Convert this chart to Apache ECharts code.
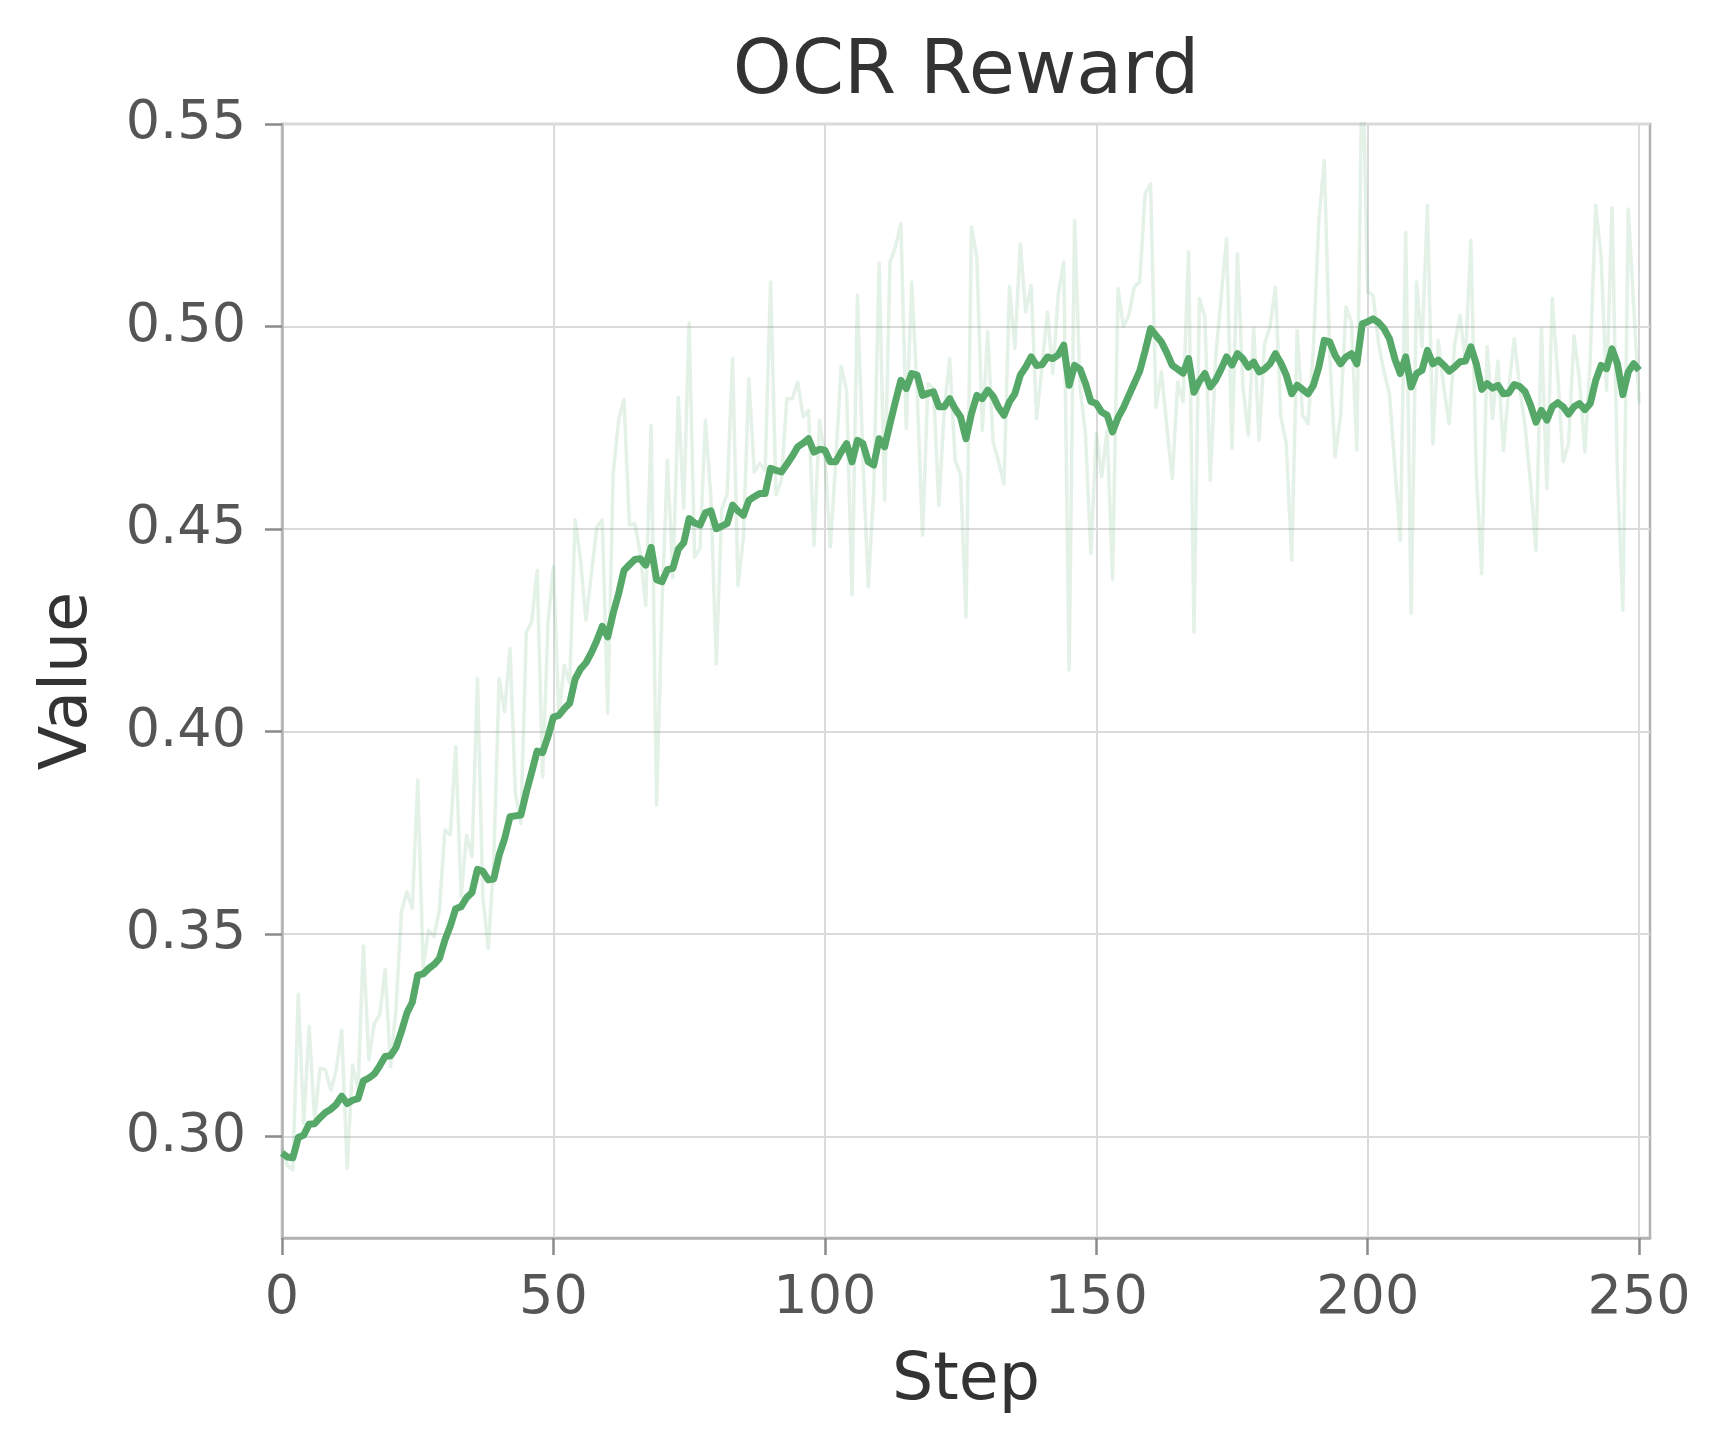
<!DOCTYPE html>
<html>
<head>
<meta charset="utf-8">
<script src="https://cdn.jsdelivr.net/npm/echarts@6/dist/echarts.min.js"></script>
<style>
html,body{margin:0;padding:0;background:#fff;}
#chart{width:1728px;height:1448px;}
</style>
</head>
<body>
<div id="chart"></div>
<script>
const chartTitle = 'OCR Reward';
const xName = 'Step';
const yName = 'Value';
const xTicks = [0, 50, 100, 150, 200, 250];
const yTicks = [0.30, 0.35, 0.40, 0.45, 0.50, 0.55];

// raw values, steps 0..250
const rawValues = [
0.297,0.293,0.2918,0.3352,0.3033,0.3273,0.3042,0.3169,0.3165,0.3115,
0.3165,0.3263,0.2922,0.3177,0.3119,0.3471,0.3190,0.3280,0.3301,0.3412,
0.3173,0.3317,0.3556,0.3605,0.3564,0.3880,0.3420,0.3510,0.3494,0.3560,
0.3757,0.3745,0.3963,0.3592,0.3745,0.3691,0.4131,0.3592,0.3465,0.3680,
0.4131,0.4049,0.4205,0.3847,0.3773,0.4246,0.4271,0.4398,0.3888,0.4267,
0.4407,0.4040,0.4164,0.4119,0.4523,0.4423,0.4275,0.4390,0.4505,0.4522,
0.4045,0.4637,0.4769,0.4820,0.4510,0.4514,0.4440,0.4312,0.4756,0.3819,
0.4310,0.4670,0.4380,0.4826,0.4551,0.5009,0.4431,0.4452,0.4768,0.4580,
0.4167,0.4547,0.4588,0.4921,0.4361,0.4480,0.4871,0.4641,0.4662,0.4645,
0.5110,0.4584,0.4620,0.4822,0.4822,0.4863,0.4777,0.4793,0.4460,0.4768,
0.4680,0.4456,0.4666,0.4902,0.4843,0.4337,0.5077,0.4678,0.4357,0.4596,
0.5157,0.4571,0.5159,0.5196,0.5254,0.4748,0.5110,0.4840,0.4485,0.4859,
0.4847,0.4559,0.4797,0.4921,0.4670,0.4633,0.4283,0.5246,0.5171,0.4744,
0.4987,0.4715,0.4666,0.4612,0.5098,0.4946,0.5204,0.5036,0.5102,0.4773,
0.4900,0.5036,0.4884,0.5080,0.5159,0.4152,0.5262,0.4851,0.4736,0.4440,
0.4736,0.4629,0.4744,0.4376,0.5094,0.5000,0.5028,0.5098,0.5110,0.5328,
0.5352,0.4801,0.4888,0.4752,0.4625,0.4863,0.4814,0.5184,0.4246,0.5069,
0.5024,0.4620,0.4925,0.5073,0.5217,0.4699,0.5180,0.4855,0.4732,0.4995,
0.4720,0.4958,0.4999,0.5097,0.4777,0.4711,0.4423,0.4990,0.4781,0.4760,
0.4950,0.5262,0.5410,0.4930,0.4678,0.4781,0.5048,0.5011,0.4695,0.5700,
0.5085,0.5077,0.4958,0.4888,0.4834,0.4654,0.4472,0.5233,0.4292,0.5110,
0.4950,0.5299,0.4711,0.4966,0.4851,0.4760,0.4954,0.5028,0.4913,0.5213,
0.4637,0.4390,0.4950,0.4773,0.4915,0.4694,0.4850,0.4970,0.4851,0.4752,
0.4612,0.4448,0.4995,0.4600,0.5069,0.4880,0.4666,0.4711,0.4978,0.4870,
0.4690,0.4920,0.5299,0.5171,0.4843,0.5293,0.4640,0.4300,0.5290,0.5050,
0.4810
];

// smoothed values, steps 0..250
const smoothValues = [
0.2960,0.2950,0.2948,0.2998,0.3004,0.3031,0.3032,0.3047,0.3060,0.3068,
0.3080,0.3100,0.3082,0.3090,0.3094,0.3138,0.3145,0.3155,0.3175,0.3198,
0.3200,0.3220,0.3260,0.3305,0.3332,0.3399,0.3402,0.3415,0.3425,0.3440,
0.3485,0.3520,0.3563,0.3568,0.3590,0.3603,0.3660,0.3655,0.3634,0.3636,
0.3695,0.3735,0.3790,0.3792,0.3794,0.3850,0.3900,0.3952,0.3948,0.3988,
0.4036,0.4040,0.4057,0.4070,0.4130,0.4155,0.4170,0.4195,0.4225,0.4260,
0.4234,0.4292,0.4340,0.4398,0.4412,0.4425,0.4427,0.4411,0.4455,0.4375,
0.4370,0.4400,0.4403,0.4450,0.4466,0.4526,0.4515,0.4510,0.4540,0.4545,
0.4501,0.4507,0.4514,0.4559,0.4545,0.4534,0.4571,0.4580,0.4588,0.4588,
0.4650,0.4645,0.4641,0.4660,0.4680,0.4703,0.4712,0.4723,0.4690,0.4697,
0.4695,0.4666,0.4666,0.4690,0.4711,0.4666,0.4719,0.4711,0.4666,0.4658,
0.4723,0.4703,0.4760,0.4815,0.4867,0.4847,0.4884,0.4880,0.4830,0.4835,
0.4839,0.4802,0.4802,0.4822,0.4797,0.4777,0.4723,0.4785,0.4830,0.4822,
0.4843,0.4828,0.4800,0.4781,0.4814,0.4834,0.4880,0.4900,0.4925,0.4904,
0.4906,0.4925,0.4921,0.4930,0.4954,0.4855,0.4904,0.4895,0.4860,0.4815,
0.4810,0.4789,0.4781,0.4740,0.4775,0.4800,0.4830,0.4860,0.4890,0.4940,
0.4995,0.4978,0.4962,0.4935,0.4904,0.4895,0.4885,0.4921,0.4838,0.4865,
0.4884,0.4851,0.4868,0.4895,0.4925,0.4905,0.4933,0.4921,0.4900,0.4912,
0.4888,0.4895,0.4908,0.4933,0.4910,0.4880,0.4834,0.4855,0.4845,0.4834,
0.4855,0.4900,0.4966,0.4962,0.4929,0.4908,0.4925,0.4933,0.4908,0.5007,
0.5012,0.5019,0.5010,0.4995,0.4970,0.4920,0.4884,0.4925,0.4851,0.4884,
0.4892,0.4941,0.4908,0.4917,0.4905,0.4890,0.4900,0.4913,0.4915,0.4950,
0.4908,0.4845,0.4859,0.4848,0.4855,0.4834,0.4836,0.4857,0.4852,0.4839,
0.4806,0.4764,0.4793,0.4769,0.4802,0.4812,0.4802,0.4784,0.4802,0.4810,
0.4795,0.4810,0.4867,0.4904,0.4896,0.4945,0.4908,0.4832,0.4888,0.4908,
0.4892
];

const steps = rawValues.map((_, i) => i);
const rawData = steps.map((s, i) => [s, rawValues[i]]);
const smoothData = steps.map((s, i) => [s, smoothValues[i]]);

const FONT = 'DejaVu Sans';
const GRID = {left: 282, right: 78, top: 124, bottom: 210};
const plotCenterX = GRID.left + (1728 - GRID.left - GRID.right) / 2;

const chart = echarts.init(document.getElementById('chart'), null, {renderer: 'canvas'});
chart.setOption({
  animation: false,
  backgroundColor: '#ffffff',
  title: {
    text: chartTitle,
    left: plotCenterX - 5,
    textAlign: 'center',
    top: 31,
    textStyle: {fontFamily: FONT, fontSize: 75, fontWeight: 'normal', color: '#333333'}
  },
  grid: Object.assign({show: true, borderColor: '#b3b3b3', borderWidth: 2.5, containLabel: false}, GRID),
  xAxis: {
    type: 'value', min: 0, max: 252,
    name: xName, nameLocation: 'middle', nameGap: 112,
    nameTextStyle: {fontFamily: FONT, fontSize: 65, color: '#333333'},
    axisLine: {show: true, lineStyle: {color: '#b3b3b3', width: 2.5}},
    axisTick: {show: true, customValues: xTicks, length: 17, lineStyle: {color: '#8a8a8a', width: 2.5}},
    axisLabel: {customValues: xTicks, margin: 34, fontFamily: FONT, fontSize: 54, color: '#555555',
      formatter: v => String(v)},
    splitLine: {show: true, lineStyle: {color: '#dadada', width: 2}}
  },
  yAxis: {
    type: 'value', min: 0.275, max: 0.55,
    name: yName, nameLocation: 'middle', nameGap: 180, nameRotate: 90,
    nameTextStyle: {fontFamily: FONT, fontSize: 65, color: '#333333'},
    axisLine: {show: true, lineStyle: {color: '#b3b3b3', width: 2.5}},
    axisTick: {show: true, customValues: yTicks, length: 17, lineStyle: {color: '#8a8a8a', width: 2.5}},
    axisLabel: {customValues: yTicks, margin: 36, fontFamily: FONT, fontSize: 54, color: '#555555',
      formatter: v => v.toFixed(2)},
    splitLine: {show: true, lineStyle: {color: '#dadada', width: 2}}
  },
  series: [
    {
      name: 'raw', type: 'line', data: rawData, showSymbol: false, clip: true,
      lineStyle: {color: '#55a868', width: 3.5, opacity: 0.16, join: 'round'},
      z: 2, silent: true
    },
    {
      name: 'smoothed', type: 'line', data: smoothData, showSymbol: false, clip: true,
      lineStyle: {color: '#55a868', width: 7, join: 'round'},
      z: 3, silent: true
    }
  ]
});
</script>
</body>
</html>
